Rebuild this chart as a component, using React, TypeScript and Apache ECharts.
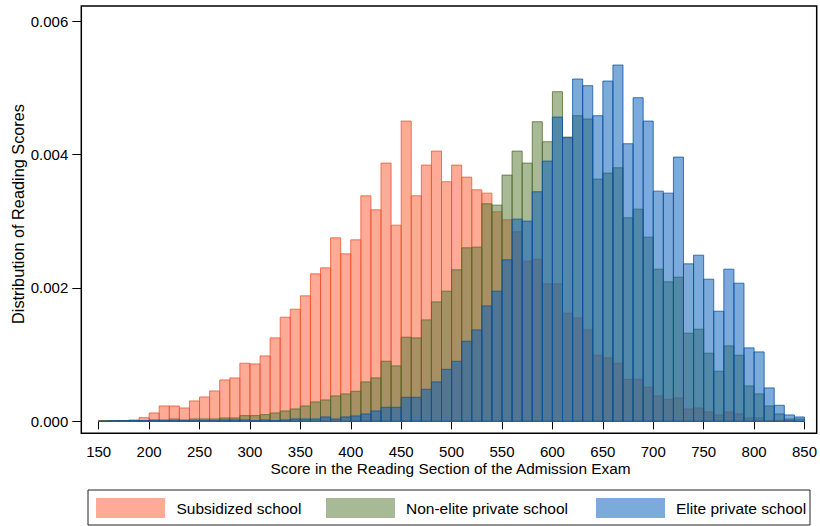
import React, { useEffect, useRef } from "react";
import * as echarts from "echarts";

const BIN_WIDTH = 10;
const binStarts = [
  150, 160, 170, 180, 190, 200, 210, 220, 230, 240,
  250, 260, 270, 280, 290, 300, 310, 320, 330, 340,
  350, 360, 370, 380, 390, 400, 410, 420, 430, 440,
  450, 460, 470, 480, 490, 500, 510, 520, 530, 540,
  550, 560, 570, 580, 590, 600, 610, 620, 630, 640,
  650, 660, 670, 680, 690, 700, 710, 720, 730, 740,
  750, 760, 770, 780, 790, 800, 810, 820, 830, 840,
];

const subsidized = [
  0.00001, 0.00001, 0.00001, 0.00002, 0.000054, 0.000125, 0.00023, 0.00023, 0.0002, 0.000305,
  0.000365, 0.000455, 0.00062, 0.00065, 0.00087, 0.00086, 0.00098, 0.00125, 0.00156, 0.00168,
  0.00188, 0.00221, 0.0023, 0.00275, 0.00251, 0.00272, 0.00338, 0.00317, 0.00387, 0.00294,
  0.0045, 0.00338, 0.00384, 0.00405, 0.00359, 0.00384, 0.00366, 0.00347, 0.00342, 0.00314,
  0.00302, 0.00284, 0.0024, 0.00243, 0.00206, 0.00206, 0.00162, 0.00155, 0.00137, 0.00099,
  0.00095, 0.00087, 0.00063, 0.00063, 0.00051, 0.00038, 0.00033, 0.00035, 0.000185, 0.0002,
  0.00014, 0.000095, 0.00014, 0.00011, 0.00005, 0.00005, 0.00001, 0.00001, 0.00001, 0,
];

const nonElite = [
  0.00001, 0.00001, 0.00001, 0.00001, 0.00001, 0.00001, 0.00002, 0.000035, 0.00002, 0.000035,
  0.000035, 0.000035, 0.00005, 0.00005, 0.000085, 0.000085, 0.0001, 0.000125, 0.000155, 0.000185,
  0.00023, 0.00029, 0.00032, 0.00038, 0.00041, 0.00045, 0.00059, 0.00065, 0.0009, 0.00083,
  0.00126, 0.00125, 0.00152, 0.00179, 0.00195, 0.00227, 0.0026, 0.00261, 0.00326, 0.00324,
  0.00369, 0.00405, 0.00387, 0.00449, 0.00419, 0.00494, 0.00426, 0.00458, 0.00453, 0.00363,
  0.00372, 0.0038, 0.00305, 0.00318, 0.00276, 0.00228, 0.00209, 0.00216, 0.00132, 0.00138,
  0.00102, 0.00075, 0.00113, 0.00099, 0.00053, 0.00041, 0.00023, 0.00011, 0.000035, 0.000035,
];

const elite = [
  0, 0.00001, 0.00001, 0.00001, 0.00001, 0.00002, 0.00001, 0.00001, 0.00001, 0.00001,
  0.00001, 0.00001, 0.00002, 0.00002, 0.00002, 0.00001, 0.00002, 0.00001, 0.00002, 0.000035,
  0.000035, 0.000035, 0.000065, 0.000035, 0.000065, 0.00008, 0.00011, 0.000155, 0.00021, 0.00021,
  0.00036, 0.00036, 0.00048, 0.00059, 0.00078, 0.0009, 0.0012, 0.00137, 0.00173, 0.00195,
  0.00242, 0.00303, 0.003, 0.00344, 0.0039, 0.00456, 0.00425, 0.00513, 0.00503, 0.00458,
  0.0051, 0.00534, 0.00416, 0.00485, 0.0045, 0.00345, 0.00342, 0.00396, 0.00236, 0.00249,
  0.00213, 0.00165, 0.00228, 0.00207, 0.0011, 0.00104, 0.0005, 0.00024, 0.000095, 0.000065,
];

const xTicks = [150, 200, 250, 300, 350, 400, 450, 500, 550, 600, 650, 700, 750, 800, 850];
const yTicks = [0, 0.002, 0.004, 0.006];

const seriesNames = ["Subsidized school", "Non-elite private school", "Elite private school"];
const seriesValues = [subsidized, nonElite, elite];
const fills = ["rgba(251,95,57,0.53)", "rgba(91,123,57,0.53)", "rgba(8,95,185,0.53)"];
const strokes = ["rgba(240,80,45,0.75)", "rgba(80,105,40,0.75)", "rgba(10,80,160,0.75)"];
const legendFills = ["rgb(253,170,150)", "rgb(168,185,150)", "rgb(124,170,218)"];

const FONT = "'Liberation Sans', Arial, Helvetica, sans-serif";

export default function App() {
  const ref = useRef<HTMLDivElement>(null);

  useEffect(() => {
    if (!ref.current) return;
    const chart = echarts.init(ref.current, undefined, { renderer: "svg" });

    const series = seriesValues.map((vals, si) => ({
      type: "custom",
      name: seriesNames[si],
      data: binStarts.map((b, i) => [b, b + BIN_WIDTH, vals[i]]),
      encode: { x: [0, 1], y: 2 },
      z: 2 + si,
      renderItem: (params: any, api: any) => {
        const x0 = api.value(0);
        const x1 = api.value(1);
        const y = api.value(2);
        const p0 = api.coord([x0, y]);
        const p1 = api.coord([x1, 0]);
        return {
          type: "rect",
          shape: { x: p0[0], y: p0[1], width: p1[0] - p0[0], height: p1[1] - p0[1] },
          style: { fill: fills[si], stroke: strokes[si], lineWidth: 1 },
        };
      },
    }));

    const legendGraphics: any[] = [
      {
        type: "rect",
        shape: { x: 88, y: 490, width: 722, height: 35 },
        style: { fill: "none", stroke: "#222", lineWidth: 1 },
      },
    ];
    const keyX = [96, 326, 596];
    const textX = [176.5, 406, 676];
    seriesNames.forEach((n, i) => {
      legendGraphics.push({
        type: "rect",
        shape: { x: keyX[i], y: 498, width: 69, height: 20 },
        style: { fill: legendFills[i] },
      });
      legendGraphics.push({
        type: "text",
        x: textX[i],
        y: 508,
        style: {
          text: n,
          fill: "#000",
          font: `15.5px ${FONT}`,
          textVerticalAlign: "middle",
          verticalAlign: "middle",
        },
      });
    });

    chart.setOption({
      animation: false,
      backgroundColor: "#fff",
      grid: { left: 98.7, right: 14.7, top: 21, bottom: 104.7, containLabel: false },
      xAxis: {
        type: "value",
        min: 150,
        max: 850,
        interval: 50,
        offset: 12,
        axisLine: { show: false },
        axisTick: { show: true, length: 8, lineStyle: { color: "#000", width: 1 } },
        axisLabel: {
          margin: 11,
          color: "#000",
          fontFamily: FONT,
          fontSize: 15,
          lineHeight: 15,
          customValues: xTicks,
        },
        splitLine: { show: false },
      },
      yAxis: {
        type: "value",
        min: 0,
        max: 0.006,
        interval: 0.002,
        offset: 17.4,
        axisLine: { show: false },
        axisTick: { show: true, length: 9, lineStyle: { color: "#000", width: 1 } },
        axisLabel: {
          margin: 13,
          color: "#000",
          fontFamily: FONT,
          fontSize: 15,
          customValues: yTicks,
          formatter: (v: number) => v.toFixed(3),
        },
        splitLine: { show: false },
      },
      graphic: [
        {
          type: "rect",
          z: 100,
          shape: { x: 81.3, y: 6, width: 735.4, height: 427.3 },
          style: { fill: "none", stroke: "#000", lineWidth: 1.5 },
        },
        {
          type: "text",
          x: 450.5,
          y: 468.5,
          style: {
            text: "Score in the Reading Section of the Admission Exam",
            fill: "#000",
            font: `15.4px ${FONT}`,
            textAlign: "center",
            textVerticalAlign: "middle",
            align: "center",
            verticalAlign: "middle",
          },
        },
        {
          type: "text",
          x: 18,
          y: 214,
          rotation: Math.PI / 2,
          style: {
            text: "Distribution of Reading Scores",
            fill: "#000",
            font: `16.3px ${FONT}`,
            textAlign: "center",
            textVerticalAlign: "middle",
            align: "center",
            verticalAlign: "middle",
          },
        },
        ...legendGraphics,
      ],
      series,
    });

    return () => chart.dispose();
  }, []);

  return (
    <div
      ref={ref}
      style={{ position: "fixed", left: 0, top: 0, width: 820, height: 526, background: "#fff" }}
    />
  );
}
